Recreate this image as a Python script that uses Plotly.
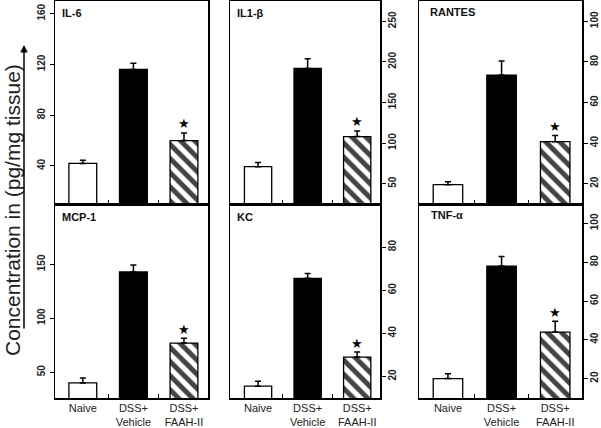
import plotly.graph_objects as go

categories = ["Naive", "DSS+<br>Vehicle", "DSS+<br>FAAH-II"]

panel_names = ["IL-6", "IL1-β", "RANTES", "MCP-1", "KC", "TNF-α"]

il6 = [42, 116, 60]
il6_err = [2.5, 5, 6]
il1b = [71, 192, 108]
il1b_err = [5, 12, 7]
rantes = [19.5, 73.5, 40.7]
rantes_err = [1.5, 7, 3]
mcp1 = [40, 143, 77]
mcp1_err = [4.5, 6.5, 4.5]
kc = [15.5, 65.5, 29]
kc_err = [2.3, 2.3, 2.3]
tnf = [20, 78, 44]
tnf_err = [2.5, 5, 5.5]

y_ranges = [[10, 170], [25, 275], [10, 110], [26, 206], [10, 100], [10, 110]]
y_ticks = [[40, 80, 120, 160], [50, 100, 150, 200, 250], [20, 40, 60, 80, 100],
           [50, 100, 150], [20, 40, 60, 80], [20, 40, 60, 80, 100]]

values = [il6, il1b, rantes, mcp1, kc, tnf]
errors = [il6_err, il1b_err, rantes_err, mcp1_err, kc_err, tnf_err]

W, H = 601, 428
col_px = [(55, 208), (230, 380), (419, 582)]
row_px = [(1, 204), (204, 398)]
x_ranges = [[-0.55, 2.475], [-0.566, 2.46], [-0.54, 2.5]]
title_px = [(60, 13), (235, 13), (428, 12), (60, 217), (235, 217), (429, 215)]

FONT = "Liberation Sans, Arial, Helvetica, sans-serif"

fig = go.Figure()
layout = dict(
    width=W, height=H,
    margin=dict(l=0, r=0, t=0, b=0),
    paper_bgcolor="white", plot_bgcolor="white",
    showlegend=False,
    font=dict(family=FONT, color="#111"),
)
annotations = []

for i in range(6):
    r, c = divmod(i, 3)
    n = i + 1
    xa = "x" if n == 1 else f"x{n}"
    ya = "y" if n == 1 else f"y{n}"
    fig.add_trace(go.Bar(
        x=[0, 1, 2], y=values[i],
        xaxis=xa, yaxis=ya,
        width=0.55,
        marker=dict(
            color=["white", "black", "white"],
            line=dict(color="black", width=1.3),
            pattern=dict(shape=["", "", "\\"], fgcolor="black", bgcolor="white",
                         fgopacity=1, size=10, solidity=0.5),
        ),
        error_y=dict(type="data", symmetric=False, array=errors[i],
                     arrayminus=[0, 0, 0], color="black", thickness=1.5, width=3),
    ))
    x0, x1 = col_px[c]
    y0, y1 = row_px[r]
    xkey = "xaxis" if n == 1 else f"xaxis{n}"
    ykey = "yaxis" if n == 1 else f"yaxis{n}"
    layout[xkey] = dict(
        domain=[x0 / W, x1 / W], anchor=ya, range=x_ranges[c],
        showline=True, linecolor="black", linewidth=1.5, mirror=True,
        showgrid=False, zeroline=False,
        tickmode="array", tickvals=[0, 1, 2], ticktext=categories,
        ticks="", showticklabels=(r == 1), ticklabelstandoff=-1,
        tickfont=dict(size=11, family=FONT, color="#222"),
        minor=dict(tickmode="array", tickvals=[0.5, 1.5], ticks="inside",
                   ticklen=4, tickwidth=1, tickcolor="black"),
    )
    layout[ykey] = dict(
        domain=[1 - y1 / H, 1 - y0 / H], anchor=xa, range=y_ranges[i],
        side="left" if c == 0 else "right",
        showline=True, linecolor="black", linewidth=1.5, mirror=True,
        showgrid=False, zeroline=False,
        tickmode="array", tickvals=y_ticks[i],
        ticks="outside", ticklen=4, tickwidth=1, tickcolor="black",
        tickangle=-90, ticklabelstandoff=(1 if c == 0 else -2),
        tickfont=dict(size=10, family=FONT, color="#222", weight="bold"),
    )
    tx, ty = title_px[i]
    annotations.append(dict(
        x=tx / W, y=1 - ty / H, xref="paper", yref="paper",
        xanchor="left", yanchor="middle", showarrow=False,
        text=f"<b>{panel_names[i]}</b>", font=dict(size=11, family=FONT, color="#111"),
    ))
    annotations.append(dict(
        x=2, y=values[i][2] + errors[i][2], xref=xa, yref=ya,
        xanchor="center", yanchor="middle", yshift=9, showarrow=False,
        text="★", font=dict(size=13, family="DejaVu Sans", color="black"),
    ))

annotations.append(dict(
    x=12 / W, y=1 - 210 / H, xref="paper", yref="paper",
    xanchor="center", yanchor="middle", showarrow=False, textangle=-90,
    text="Concentration in (pg/mg tissue)", font=dict(size=21, family=FONT, color="#222"),
))
annotations.append(dict(
    x=24 / W, y=1 - 45 / H, xref="paper", yref="paper",
    ax=0, ay=285, axref="pixel", ayref="pixel",
    showarrow=True, arrowhead=2, arrowsize=1, arrowwidth=1.5, arrowcolor="black",
    text="",
))

layout["annotations"] = annotations
fig.update_layout(**layout)
fig.write_html(
    "out.html",
    config={"displayModeBar": False, "staticPlot": True},
    post_script="document.body.style.margin='0';document.body.style.padding='0';",
)
